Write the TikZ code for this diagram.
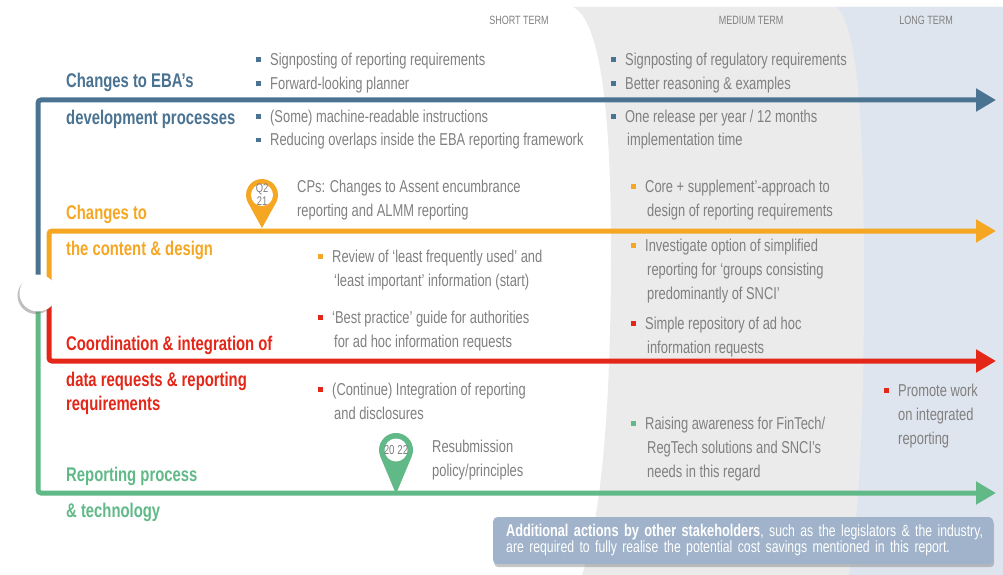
\documentclass[tikz,border=0pt]{standalone}
\usepackage{fontspec}
\setmainfont{Liberation Sans}[FakeStretch=0.75]
\usepackage{tikz}
\usetikzlibrary{arrows.meta}
\usetikzlibrary{shadows}

\definecolor{ebablue}{RGB}{74,114,145}
\definecolor{ebaorange}{RGB}{245,167,36}
\definecolor{ebared}{RGB}{228,38,24}
\definecolor{ebagreen}{RGB}{96,185,135}
\definecolor{txtgrey}{RGB}{128,128,128}
\definecolor{midgrey}{RGB}{235,235,235}
\definecolor{longblue}{RGB}{223,229,238}
\definecolor{notefill}{RGB}{160,179,202}

\newcommand{\sq}[1]{\llap{\textcolor{#1}{\rule[3.5pt]{5pt}{5pt}}\hspace{9pt}}}
\newcommand{\tlines}[1]{\begin{tabular}[t]{@{}l@{}}#1\end{tabular}}

\begin{document}
\begin{tikzpicture}[x=1pt, y=-1pt, >={Triangle[length=20pt,width=22pt]}]
      \tikzstyle{track} = [line width=5pt, rounded corners=3pt, ->]
      \tikzstyle{theme} = [anchor=base west, inner sep=0pt, font=\fontsize{19.8}{36.5}\selectfont\bfseries]
      \tikzstyle{item} = [anchor=base west, inner sep=0pt, text=txtgrey, font=\fontsize{17.2}{24}\selectfont]
      \tikzstyle{term} = [anchor=base, inner sep=0pt, text=txtgrey, font=\fontsize{12}{14}\selectfont]
      \tikzstyle{pinlabel} = [align=center, inner sep=0pt, text=txtgrey, font=\fontsize{12.5}{13}\selectfont]
      \tikzstyle{hubdot} = [circle, fill=white, minimum size=37pt, inner sep=0pt,
         drop shadow={shadow xshift=-2pt, shadow yshift=-2.5pt, opacity=0.5}]
      \tikzstyle{notebox} = [anchor=north west, fill=notefill, rounded corners=4pt, minimum width=500pt,
         minimum height=47pt, text width=474pt, inner xsep=13pt, align=left, text=white,
         font=\fontsize{16.3}{16.5}\selectfont, drop shadow={shadow xshift=1pt, shadow yshift=-3pt, opacity=0.45}]
      \useasboundingbox (0,0) rectangle (1003,575);

      %bands
      \fill[midgrey] (573,7) .. controls (600,20) and (611,110) .. (611,250) .. controls (611,420) and (600,520) .. (582,575) -- (1003,575) -- (1003,7) -- cycle;
      \fill[longblue] (837,7) .. controls (858,30) and (864,120) .. (864,280) .. controls (864,440) and (858,520) .. (849,575) -- (1003,575) -- (1003,7) -- cycle;
      \node[term] (shortterm) at (519,25) {SHORT TERM};
      \node[term] (midterm) at (751,25) {MEDIUM TERM};
      \node[term] (longterm) at (926,25) {LONG TERM};

      %lines
      \coordinate (hub) at (38,293);
      \coordinate (hubin) at (49,293);
      \coordinate (blueend) at (996,100);
      \coordinate (orangeend) at (996,231);
      \coordinate (redend) at (996,361);
      \coordinate (greenend) at (996,493);
      \draw[track, ebablue] (hub) |- (blueend);
      \draw[track, ebaorange] (hubin) |- (orangeend);
      \draw[track, ebared] (hubin) |- (redend);
      \draw[track, ebagreen] (hub) |- (greenend);
      \node[hubdot] (start) at (hub) {};

      %pins
      \begin{scope}[shift={(262,228)}, y=1pt]
        \fill[ebaorange] (0,0) -- ([shift={(0,33)}]-29:16) arc[start angle=-29, end angle=209, radius=16] -- cycle;
        \fill[white] (0,33) circle[radius=11];
        \node[pinlabel] (q221) at (0,33) {Q2\\21};
      \end{scope}
      \begin{scope}[shift={(396,494)}, y=1pt]
        \fill[ebagreen] (0,0) -- ([shift={(0,44)}]-22.7:17) arc[start angle=-22.7, end angle=202.7, radius=17] -- cycle;
        \fill[white] (0,44) circle[radius=11.5];
        \node[pinlabel, font=\fontsize{13}{14}\selectfont] (y2022) at (0,44) {20 22};
      \end{scope}

      %themes
      \node[theme, text=ebablue] (ebaproc) at (66,88) {\tlines{Changes to EBA’s\\development processes}};
      \node[theme, text=ebaorange] (content) at (66,219) {\tlines{Changes to\\the content \& design}};
      \node[theme, text=ebared] (coord) at (66,350) {\tlines{Coordination \& integration of\\data requests \& reporting\\[-12.5pt]requirements}};
      \node[theme, text=ebagreen] (process) at (66,481) {\tlines{Reporting process\\\& technology}};

      %items
      \node[item] (signpost) at (270,66) {\tlines{\sq{ebablue}Signposting of reporting requirements\\\sq{ebablue}Forward-looking planner}};
      \node[item] (machine) at (270,122) {\tlines{\sq{ebablue}(Some) machine-readable instructions\\\sq{ebablue}Reducing overlaps inside the EBA reporting framework}};
      \node[item] (regul) at (625,66) {\tlines{\sq{ebablue}Signposting of regulatory requirements\\\sq{ebablue}Better reasoning \& examples}};
      \node[item] (release) at (625,122) {\tlines{\sq{ebablue}One release per year / 12 months\\\hspace*{2pt}implementation time}};
      \node[item] (cps) at (297,192) {\tlines{CPs: Changes to Assent encumbrance\\reporting and ALMM reporting}};
      \node[item] (core) at (645,192) {\tlines{\sq{ebaorange}Core + supplement’-approach to\\\hspace*{2pt}design of reporting requirements}};
      \node[item] (review) at (332,262) {\tlines{\sq{ebaorange}Review of ‘least frequently used’ and\\\hspace*{2pt}‘least important’ information (start)}};
      \node[item] (simplified) at (645,251) {\tlines{\sq{ebaorange}Investigate option of simplified\\\hspace*{2pt}reporting for ‘groups consisting\\\hspace*{2pt}predominantly of SNCI’}};
      \node[item] (guide) at (332,323) {\tlines{\sq{ebared}‘Best practice’ guide for authorities\\\hspace*{2pt}for ad hoc information requests}};
      \node[item] (repo) at (645,329) {\tlines{\sq{ebared}Simple repository of ad hoc\\\hspace*{2pt}information requests}};
      \node[item] (integr) at (332,395) {\tlines{\sq{ebared}(Continue) Integration of reporting\\\hspace*{2pt}and disclosures}};
      \node[item] (promote) at (898,396) {\tlines{\sq{ebared}Promote work\\on integrated\\reporting}};
      \node[item] (resub) at (432,452) {\tlines{Resubmission\\policy/principles}};
      \node[item] (fintech) at (645,429) {\tlines{\sq{ebagreen}Raising awareness for FinTech/\\\hspace*{2pt}RegTech solutions and SNCI’s\\\hspace*{2pt}needs in this regard}};

      %note
      \node[notebox] (note) at (493,517) {\tlines{\textbf{\fontsize{17}{16.5}\selectfont Additional actions by other stakeholders}, such as the legislators \& the industry,\\are required to fully realise the potential cost savings mentioned in this report.}};
\end{tikzpicture}
\end{document}
